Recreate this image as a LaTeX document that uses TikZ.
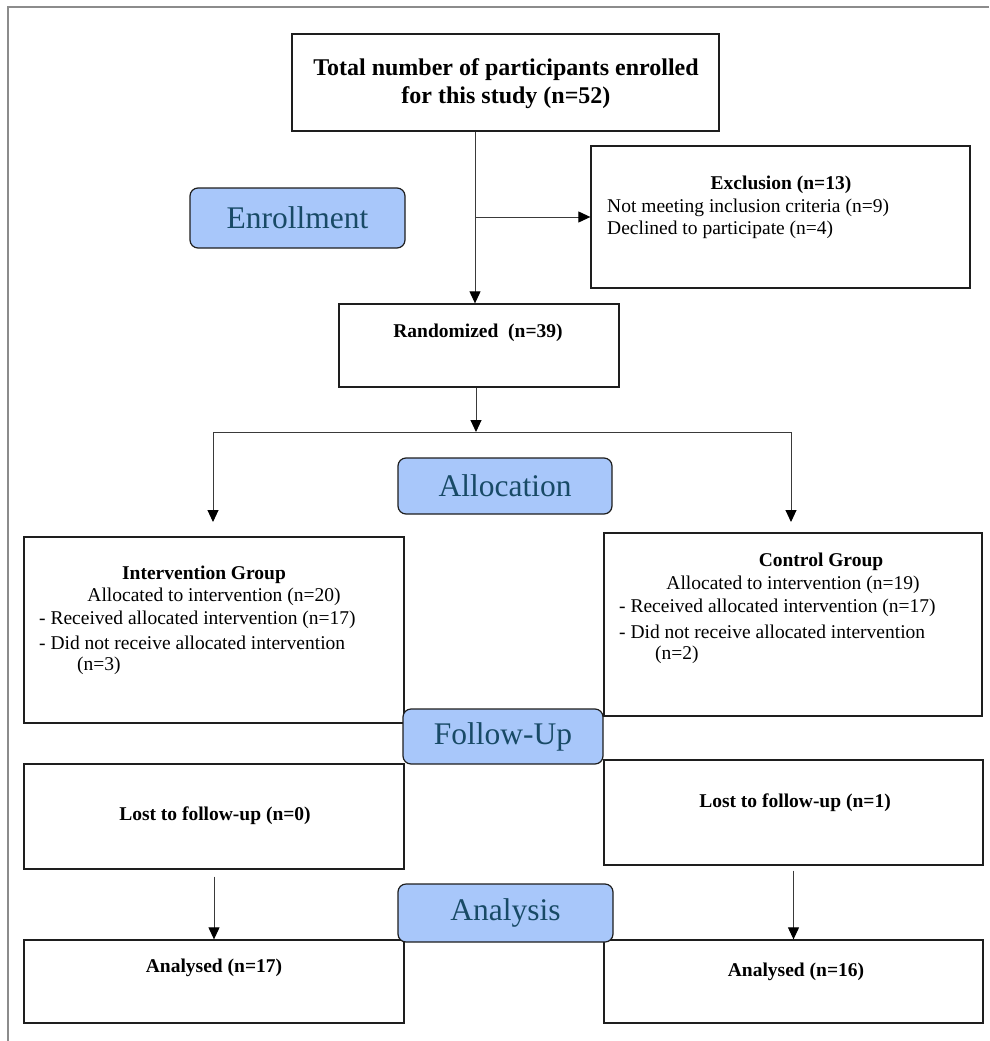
\documentclass[tikz,border=0pt]{standalone}
\usepackage{fontspec}
\setmainfont{Liberation Serif}
\usetikzlibrary{arrows.meta}
\definecolor{boxc}{HTML}{1E1E1E}
\definecolor{linec}{HTML}{3A3A3A}
\definecolor{lblfill}{HTML}{A8C7FA}
\definecolor{lbltext}{HTML}{184A66}
\definecolor{framec}{HTML}{8C8C8C}
\begin{document}
\begin{tikzpicture}[x=1pt,y=-1pt,
  box/.style={draw=boxc, line width=1.3pt, inner sep=0pt, fill=white},
  lbl/.style={draw=boxc, line width=1.2pt, fill=lblfill, rounded corners=8pt, inner sep=0pt, text=lbltext, font=\fontsize{31.5}{36}\selectfont},
  txt/.style={inner sep=0pt, font=\fontsize{19.5}{22.5}\selectfont},
  btxt/.style={inner sep=0pt, font=\fontsize{19.5}{22.5}\selectfont\bfseries},
  conn/.style={draw=linec, line width=1pt},
  arr/.style={conn, -{Triangle[length=12pt,width=11pt,color=black]}},
]
\useasboundingbox (0,0) rectangle (989,1041);
\draw[framec, line width=2pt] (989,7) -- (8,7) -- (8,1041);

% boxes
\node[box, minimum width=427pt, minimum height=97pt] (total) at (505.5,82.5) {};
\node[box, minimum width=379pt, minimum height=142pt] (excl) at (780.5,217) {};
\node[box, minimum width=280pt, minimum height=83pt] (rand) at (479,345.5) {};
\node[box, minimum width=380pt, minimum height=186pt] (interv) at (214,630) {};
\node[box, minimum width=378pt, minimum height=183pt] (ctrl) at (793,624.5) {};
\node[box, minimum width=380pt, minimum height=105pt] (lostL) at (214,816.5) {};
\node[box, minimum width=379pt, minimum height=105pt] (lostR) at (793.5,812.5) {};
\node[box, minimum width=380pt, minimum height=83pt] (anL) at (214,981.5) {};
\node[box, minimum width=379pt, minimum height=83pt] (anR) at (793.5,981.5) {};

% texts
\node[inner sep=0pt, font=\fontsize{24}{28}\selectfont\bfseries, align=center] (totaltxt) at (506,84) {Total number of participants enrolled\\for this study (n=52)};
\node[btxt] (ex0) at (781,185) {Exclusion (n=13)};
\node[txt, anchor=west] (ex1) at (607,207.5) {Not meeting inclusion criteria (n=9)};
\node[txt, anchor=west] (ex2) at (607,230) {Declined to participate (n=4)};
\node[btxt] (randtxt) at (478,333) {Randomized\ \ (n=39)};

\node[btxt] (ig0) at (204,575) {Intervention Group};
\node[txt] (ig1) at (214,597) {Allocated to intervention (n=20)};
\node[txt, anchor=west] (ig2) at (39,620) {- Received allocated intervention (n=17)};
\node[txt, anchor=west] (ig3) at (39,643) {- Did not receive allocated intervention};
\node[txt, anchor=west] (ig4) at (77,666) {(n=3)};

\node[btxt] (cg0) at (821,562) {Control Group};
\node[txt] (cg1) at (793,585) {Allocated to intervention (n=19)};
\node[txt, anchor=west] (cg2) at (619,608) {- Received allocated intervention (n=17)};
\node[txt, anchor=west] (cg3) at (619,632) {- Did not receive allocated intervention};
\node[txt, anchor=west] (cg4) at (655,655) {(n=2)};

\node[btxt] (lostLtxt) at (215,816) {Lost to follow-up (n=0)};
\node[btxt] (lostRtxt) at (795,803) {Lost to follow-up (n=1)};
\node[btxt] (anLtxt) at (214,968) {Analysed (n=17)};
\node[btxt] (anRtxt) at (796,972) {Analysed (n=16)};

% connectors
\coordinate (t0) at ([xshift=-30.5pt]total.south);
\draw[arr] (t0) -- (t0 |- rand.north);
\draw[arr] (t0 |- excl.west) -- (excl.west);
\coordinate (br) at (476,432);
\coordinate (tipL) at (213,522);
\coordinate (tipR) at (791,522);
\draw[arr] ([xshift=-3pt]rand.south) -- (br);
\draw[arr] (br) -| (tipL);
\draw[arr] (br) -| (tipR);
\draw[arr] ([yshift=-7pt]lostL.south) -- (anL.north);
\draw[arr] ([yshift=-5pt]lostR.south) -- (anR.north);

% stage labels
\node[lbl, minimum width=215pt, minimum height=60pt] (enroll) at (297.5,218) {Enrollment};
\node[lbl, minimum width=214pt, minimum height=56pt] (alloc) at (505,486) {Allocation};
\node[lbl, minimum width=200pt, minimum height=55pt] (follow) at (503,736.5) {Follow-Up};
\node[lbl, minimum width=215pt, minimum height=58pt] (analysis) at (505.5,913) {Analysis};
\end{tikzpicture}
\end{document}
